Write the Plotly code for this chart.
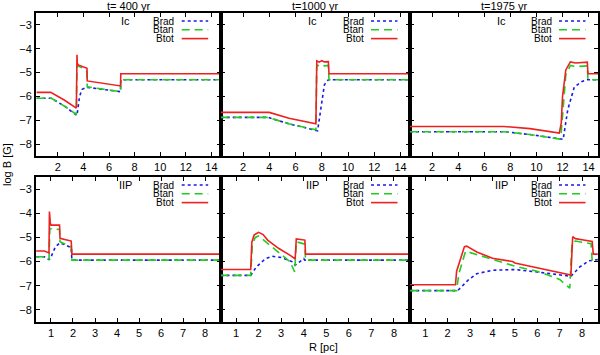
import plotly.graph_objects as go

# ---- data ----
titles = ["t= 400 yr", "t=1000 yr", "t=1975 yr"]
row_labels = ["Ic", "IIP"]
series_names = ["Brad", "Btan", "Btot"]

# Ic, t=400
ic400_tot_x = [0.35, 1.45, 2.5, 3.45, 3.5, 3.52, 3.6, 3.9, 4.28, 4.3, 6.9, 6.92, 14.65]
ic400_tot_y = [-5.83, -5.83, -6.15, -6.49, -4.25, -4.6, -4.68, -4.75, -4.82, -5.35, -5.56, -5.05, -5.05]
ic400_tan_x = [0.35, 1.5, 2.5, 3.45, 3.5, 3.55, 3.9, 4.28, 4.3, 6.9, 6.92, 14.65]
ic400_tan_y = [-6.08, -6.08, -6.4, -6.75, -4.7, -4.72, -4.8, -4.96, -5.6, -5.8, -5.3, -5.3]
ic400_rad_x = [0.35, 1.5, 2.5, 3.45, 3.5, 3.7, 3.9, 4.3, 6.9, 6.92, 14.65]
ic400_rad_y = [-6.08, -6.08, -6.4, -6.75, -6.8, -6.0, -5.7, -5.62, -5.8, -5.3, -5.3]

# Ic, t=1000
ic1000_tot_x = [0.3, 4.0, 5.5, 7.55, 7.62, 7.8, 8.0, 8.2, 8.5, 8.55, 14.75]
ic1000_tot_y = [-6.67, -6.67, -6.92, -7.15, -4.51, -4.56, -4.5, -4.55, -4.54, -5.05, -5.05]
ic1000_tan_x = [0.3, 3.9, 5.5, 7.55, 7.62, 7.8, 8.0, 8.2, 8.5, 8.55, 14.75]
ic1000_tan_y = [-6.88, -6.88, -7.15, -7.4, -4.68, -4.72, -4.66, -4.72, -4.7, -5.3, -5.3]
ic1000_rad_x = [0.3, 3.9, 5.5, 7.55, 7.68, 8.2, 8.5, 14.75]
ic1000_rad_y = [-6.88, -6.88, -7.15, -7.4, -7.44, -5.51, -5.3, -5.3]

# Ic, t=1975
ic1975_tot_x = [0.3, 7.5, 9.5, 11.75, 11.9, 12.0, 12.25, 12.6, 13.0, 13.9, 13.95, 14.75]
ic1975_tot_y = [-7.26, -7.26, -7.35, -7.54, -7.12, -6.0, -4.89, -4.55, -4.6, -4.56, -5.05, -5.05]
ic1975_tan_x = [0.3, 7.5, 9.5, 11.75, 11.9, 12.25, 12.6, 13.0, 13.9, 13.95, 14.75]
ic1975_tan_y = [-7.48, -7.48, -7.6, -7.79, -7.5, -5.1, -4.7, -4.75, -4.72, -5.3, -5.3]
ic1975_rad_x = [0.3, 7.5, 9.5, 11.75, 12.05, 12.4, 12.9, 13.5, 13.9, 14.75]
ic1975_rad_y = [-7.48, -7.48, -7.6, -7.79, -7.8, -6.56, -5.61, -5.37, -5.3, -5.3]

# IIP, t=400
iip400_tot_x = [0.33, 0.7, 0.91, 0.93, 0.97, 1.0, 1.39, 1.41, 1.92, 1.95, 8.7]
iip400_tot_y = [-5.56, -5.56, -5.64, -3.93, -4.4, -4.49, -4.49, -5.04, -5.15, -5.69, -5.69]
iip400_tan_x = [0.33, 0.7, 0.91, 0.95, 1.0, 1.39, 1.41, 1.92, 1.95, 8.7]
iip400_tan_y = [-5.8, -5.8, -5.92, -4.62, -4.64, -4.67, -5.18, -5.39, -5.94, -5.94]
iip400_rad_x = [0.33, 0.7, 0.91, 0.97, 1.2, 1.39, 1.41, 1.92, 1.95, 8.7]
iip400_rad_y = [-5.8, -5.8, -5.92, -5.88, -5.39, -5.25, -5.22, -5.42, -5.94, -5.94]

# IIP, t=1000
iip1000_tot_x = [0.31, 1.65, 1.7, 1.8, 2.0, 2.2, 2.4, 2.9, 3.4, 3.62, 3.67, 4.05, 4.08, 8.7]
iip1000_tot_y = [-6.33, -6.33, -5.2, -4.9, -4.79, -4.88, -5.11, -5.46, -5.74, -5.89, -5.06, -5.11, -5.69, -5.69]
iip1000_tan_x = [0.31, 1.65, 1.72, 1.85, 2.0, 2.8, 3.4, 3.6, 3.67, 4.05, 4.08, 8.7]
iip1000_tan_y = [-6.57, -6.57, -5.3, -5.0, -4.94, -5.53, -6.01, -6.43, -5.18, -5.28, -5.94, -5.94]
iip1000_rad_x = [0.31, 1.65, 1.9, 2.3, 2.6, 3.0, 3.5, 3.62, 4.0, 4.05, 8.7]
iip1000_rad_y = [-6.57, -6.57, -6.22, -5.88, -5.78, -5.83, -6.01, -6.15, -5.88, -5.94, -5.94]

# IIP, t=1975
iip1975_tot_x = [0.33, 2.35, 2.4, 2.5, 2.75, 2.85, 3.3, 4.0, 4.9, 5.0, 6.0, 7.0, 7.5, 7.58, 7.7, 8.0, 8.45, 8.5, 8.7]
iip1975_tot_y = [-6.96, -6.96, -6.4, -6.1, -5.38, -5.36, -5.6, -5.86, -6.0, -6.06, -6.25, -6.46, -6.56, -4.97, -5.05, -5.1, -5.17, -5.69, -5.69]
iip1975_tan_x = [0.33, 2.4, 2.5, 2.8, 3.8, 5.0, 6.0, 7.0, 7.45, 7.55, 7.7, 8.4, 8.45, 8.7]
iip1975_tan_y = [-7.2, -7.2, -6.5, -5.57, -5.85, -6.19, -6.4, -6.74, -7.1, -5.2, -5.15, -5.26, -5.94, -5.94]
iip1975_rad_x = [0.33, 2.45, 2.9, 3.3, 4.0, 5.0, 6.0, 7.0, 7.5, 7.9, 8.3, 8.7]
iip1975_rad_y = [-7.2, -7.2, -6.78, -6.5, -6.36, -6.33, -6.43, -6.53, -6.61, -6.22, -5.97, -5.92]

panels = [
    [(ic400_rad_x, ic400_rad_y), (ic400_tan_x, ic400_tan_y), (ic400_tot_x, ic400_tot_y)],
    [(ic1000_rad_x, ic1000_rad_y), (ic1000_tan_x, ic1000_tan_y), (ic1000_tot_x, ic1000_tot_y)],
    [(ic1975_rad_x, ic1975_rad_y), (ic1975_tan_x, ic1975_tan_y), (ic1975_tot_x, ic1975_tot_y)],
    [(iip400_rad_x, iip400_rad_y), (iip400_tan_x, iip400_tan_y), (iip400_tot_x, iip400_tot_y)],
    [(iip1000_rad_x, iip1000_rad_y), (iip1000_tan_x, iip1000_tan_y), (iip1000_tot_x, iip1000_tot_y)],
    [(iip1975_rad_x, iip1975_rad_y), (iip1975_tan_x, iip1975_tan_y), (iip1975_tot_x, iip1975_tot_y)],
]

# ---- styling ----
W, H = 600, 355
FONT = "Liberation Sans"
colors = ["#1a1ae6", "#22cc22", "#ee2020"]
dashes = ["3px,3px", "8px,5px", "solid"]

col_px = [(36, 220.7), (220.7, 410), (410, 598)]
row_px = [(13, 156), (177, 322)]
x_ranges = [[0.3, 14.72], [0.32, 8.71]]


def pxx(v):
    return v / W


def pxy(v):
    return 1 - v / H


fig = go.Figure()
annotations = []
shapes = []

for i, panel in enumerate(panels):
    r, c = divmod(i, 3)
    n = i + 1
    xa = "x" if n == 1 else f"x{n}"
    ya = "y" if n == 1 else f"y{n}"
    for k, (xs, ys) in enumerate(panel):
        fig.add_trace(go.Scatter(
            x=xs, y=ys, mode="lines", xaxis=xa, yaxis=ya, showlegend=False,
            line=dict(color=colors[k], width=1.6, dash=dashes[k]),
        ))

    x0, x1 = col_px[c]
    y0, y1 = row_px[r]
    common = dict(
        showline=True, linecolor="black", linewidth=2, mirror="ticks",
        ticks="inside", ticklen=4, tickwidth=1, tickcolor="black",
        showgrid=False, zeroline=False,
        tickfont=dict(family=FONT, size=11, color="black"),
    )
    fig.update_layout({
        ("xaxis" if n == 1 else f"xaxis{n}"): dict(
            domain=[pxx(x0), pxx(x1)], anchor=ya, range=x_ranges[r],
            dtick=2 if r == 0 else 1, tick0=0, **common),
        ("yaxis" if n == 1 else f"yaxis{n}"): dict(
            domain=[pxy(y1), pxy(y0)], anchor=xa, range=[-8.5, -2.5],
            dtick=1, showticklabels=(c == 0), **common),
    })

    # gnuplot-style key in the top-right corner
    annotations.append(dict(
        x=pxx(x0 + 0.485 * (x1 - x0)), y=pxy(y0 + 8), xref="paper", yref="paper",
        text=row_labels[r], showarrow=False, xanchor="center", yanchor="middle",
        font=dict(family=FONT, size=11, color="black")))
    for k, name in enumerate(series_names):
        yy = y0 + 8 + 8.8 * k
        annotations.append(dict(
            x=pxx(x1 - 45.5), y=pxy(yy), xref="paper", yref="paper",
            text=name, showarrow=False, xanchor="right", yanchor="middle",
            font=dict(family=FONT, size=10, color="black"), borderpad=0))
        shapes.append(dict(
            type="line", xref="paper", yref="paper",
            x0=pxx(x1 - 39), x1=pxx(x1 - 12.5), y0=pxy(yy), y1=pxy(yy),
            line=dict(color=colors[k], width=1.6, dash=dashes[k])))

for c, t in enumerate(titles):
    x0, x1 = col_px[c]
    annotations.append(dict(
        x=pxx((x0 + x1) / 2), y=pxy(6), xref="paper", yref="paper",
        text=t, showarrow=False, xanchor="center", yanchor="middle",
        font=dict(family=FONT, size=11, color="black")))

annotations.append(dict(
    x=pxx(7), y=pxy(165), xref="paper", yref="paper", text="log B [G]",
    textangle=-90, showarrow=False, xanchor="center", yanchor="middle",
    font=dict(family=FONT, size=11, color="black")))
annotations.append(dict(
    x=pxx(323), y=pxy(347), xref="paper", yref="paper", text="R [pc]",
    showarrow=False, xanchor="center", yanchor="middle",
    font=dict(family=FONT, size=11, color="black")))

fig.update_layout(
    width=W, height=H,
    margin=dict(l=0, r=0, t=0, b=0),
    paper_bgcolor="white", plot_bgcolor="white",
    annotations=annotations, shapes=shapes,
    font=dict(family=FONT, size=11, color="black"),
)

# drop the default 8px page margin so the figure sits at the window's corner
fig.write_html("out.html", config={"displayModeBar": False},
               post_script="document.body.style.margin='0';")
